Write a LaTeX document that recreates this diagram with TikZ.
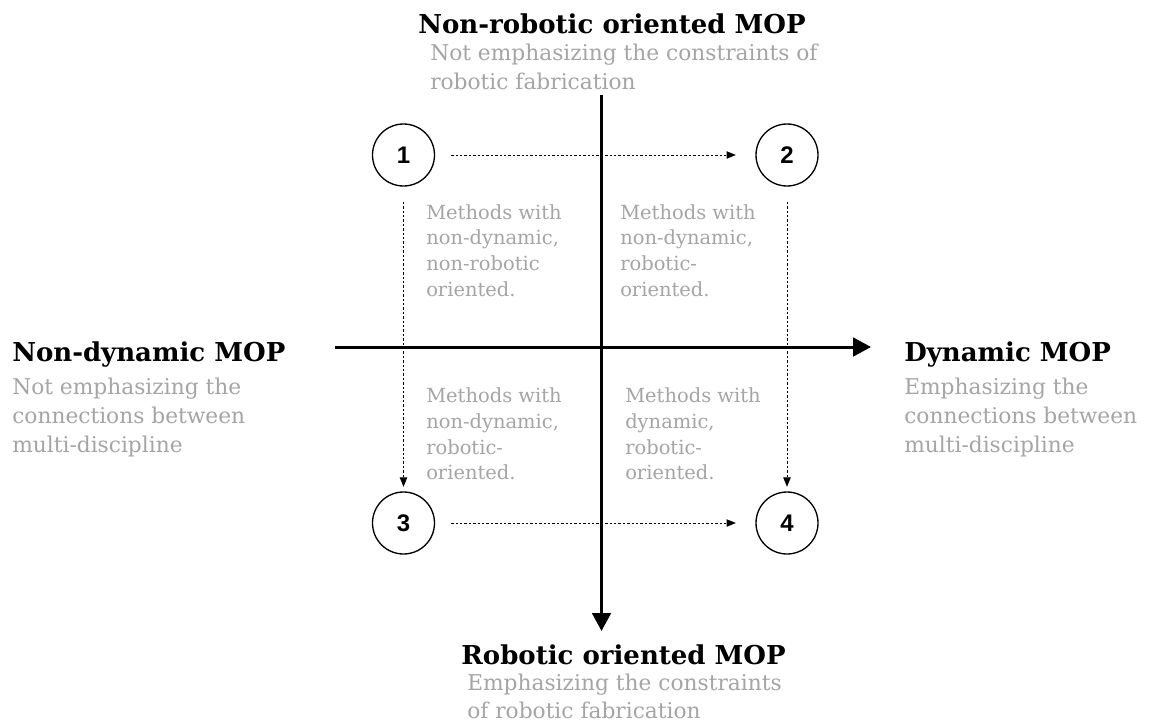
\documentclass[tikz,border=0pt]{standalone}
\usepackage{fontspec}
\setmainfont{DejaVu Serif}
\newfontfamily\numfont{Liberation Sans}
\usetikzlibrary{arrows.meta}
\definecolor{subgray}{RGB}{165,165,165}
\newcommand\twolines[2]{\vtop{\hbox{#1}\hbox{#2}}}
\newcommand\threelines[3]{\vtop{\hbox{#1}\hbox{#2}\hbox{#3}}}
\newcommand\fourlines[4]{\vtop{\hbox{#1}\hbox{#2}\hbox{#3}\hbox{#4}}}
\begin{document}
\begin{tikzpicture}[x=0.75pt,y=-0.75pt,
  axis/.style={line width=2.25pt,-{Triangle[length=13.5pt,width=14pt]}},
  num/.style={circle,draw,line width=1pt,minimum size=46.5pt,inner sep=0pt,font=\numfont\bfseries\fontsize{18}{18}\selectfont},
  link/.style={line width=0.7pt,dash pattern=on 1.8pt off 1.5pt,-{Triangle[length=7pt,width=5.5pt]}},
  title/.style={font=\bfseries\fontsize{19.5}{22}\selectfont,inner sep=0pt,anchor=base west},
  sub/.style={font=\fontsize{16.3}{22}\selectfont,text=subgray,inner sep=0pt,anchor=base west},
  subb/.style={sub,font=\fontsize{16.3}{21}\selectfont},
  quad/.style={font=\fontsize{14.6}{19.3}\selectfont,text=subgray,inner sep=0pt,anchor=base west}]
\useasboundingbox[fill=white] (0,0) rectangle (1149,721);
% axes
\coordinate (xs) at (335,347);
\coordinate (xe) at (871,347);
\coordinate (ys) at (601.5,95);
\coordinate (ye) at (601.5,631);
\draw[axis] (xs) -- (xe);
\draw[axis] (ys) -- (ye);
% circles
\node[num] (n1) at (403.5,155) {1};
\node[num] (n2) at (787,155) {2};
\node[num] (n3) at (403.5,523) {3};
\node[num] (n4) at (787,523) {4};
\draw[link,shorten <=12pt,shorten >=14.6pt] (n1) -- (n2);
\draw[link,shorten <=12pt,shorten >=14.6pt] (n3) -- (n4);
\draw[link,shorten <=11.4pt,shorten >=3.4pt] (n1) -- (n3);
\draw[link,shorten <=11.4pt,shorten >=3.4pt] (n2) -- (n4);
% quadrant texts
\node[quad] (q1) at (426,219) {\fourlines{Methods with}{non-dynamic,}{non-robotic}{oriented.}};
\node[quad] (q2) at (620,219) {\fourlines{Methods with}{non-dynamic,}{robotic-}{oriented.}};
\node[quad] (q3) at (426,402.7) {\fourlines{Methods with}{non-dynamic,}{robotic-}{oriented.}};
\node[quad] (q4) at (625,402.7) {\fourlines{Methods with}{dynamic,}{robotic-}{oriented.}};
% axis labels
\node[title,anchor=base] (tt) at (612,33.3) {Non-robotic oriented MOP};
\node[sub] (ts) at (430,60) {\twolines{Not emphasizing the constraints of}{robotic fabrication}};
\node[title] (lt) at (12,361) {Non-dynamic MOP};
\node[sub] (ls) at (12,394) {\threelines{Not emphasizing the}{connections between}{multi-discipline}};
\node[title] (rt) at (904,361) {Dynamic MOP};
\node[sub] (rs) at (904,394) {\threelines{Emphasizing the}{connections between}{multi-discipline}};
\node[title,anchor=base] (bt) at (623.5,664) {Robotic oriented MOP};
\node[subb] (bs) at (467,690) {\twolines{Emphasizing the constraints}{of robotic fabrication}};
\end{tikzpicture}
\end{document}
